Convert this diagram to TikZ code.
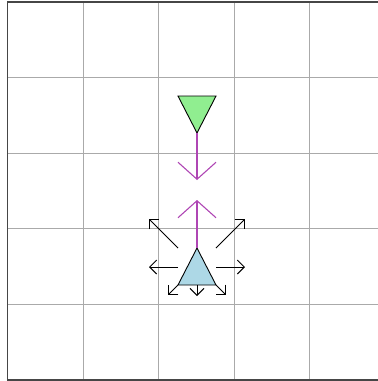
\documentclass[tikz,border=0pt]{standalone}
\usetikzlibrary{arrows.meta}
\definecolor{gridgray}{RGB}{170,170,170}
\definecolor{framegray}{RGB}{70,70,70}
\definecolor{fieldpurple}{RGB}{175,70,180}
\definecolor{srcgreen}{RGB}{144,238,144}
\definecolor{srcblue}{RGB}{173,216,230}
\tikzset{
  gridline/.style={draw=gridgray, line width=1pt},
  frameline/.style={draw=framegray, line width=1.5pt},
  fieldarrow/.style={draw=fieldpurple, line width=1.1pt, -{Straight Barb[length=17pt,width=38pt]}},
  spreadarrow/.style={draw=black, line width=0.9pt, -{Straight Barb[length=7pt,width=14pt]}},
  srcshape/.style={draw=black, line width=0.9pt, line join=miter}
}
\begin{document}
\begin{tikzpicture}[x=1pt,y=-1pt]
\useasboundingbox (0,0) rectangle (378,381);
% grid
\foreach \i in {1,2,3,4} {
  \draw[gridline] ({7.5+75.6*\i},2) -- ({7.5+75.6*\i},380);
  \draw[gridline] (7.5,{380-75.6*\i}) -- (378,{380-75.6*\i});
}
% frame
\draw[frameline] (378,2) -- (7.5,2) -- (7.5,380) -- (378,380);
% green source (downward triangle)
\coordinate (gtl) at (178,96);
\coordinate (gtr) at (216,96);
\coordinate (gtip) at (197,133);
\fill[srcgreen] (gtl) -- (gtr) -- (gtip) -- cycle;
\draw[srcshape] (gtl) -- (gtr) -- (gtip) -- cycle;
% blue source (upward triangle)
\coordinate (btop) at (197,248);
\coordinate (bbl) at (178,285);
\coordinate (bbr) at (216,285);
\fill[srcblue] (btop) -- (bbr) -- (bbl) -- cycle;
\draw[srcshape] (btop) -- (bbr) -- (bbl) -- cycle;
% purple field arrows
\coordinate (pdown) at (197,180);
\coordinate (pup) at (197,200);
\draw[fieldarrow] (gtip) -- (pdown);
\draw[fieldarrow] (btop) -- (pup);
% black spreading arrows from the blue source box
\coordinate (bnw) at (178,248);
\coordinate (bne) at (216,248);
\coordinate (bw) at (178,267);
\coordinate (be) at (216,267);
\coordinate (bs) at (197,285);
\coordinate (enw) at (149,219);
\coordinate (ene) at (245,219);
\coordinate (ew) at (149,267);
\coordinate (ee) at (245,267);
\coordinate (esw) at (168,295);
\coordinate (es) at (197,296);
\coordinate (ese) at (226,295);
\draw[spreadarrow] (bnw) -- (enw);
\draw[spreadarrow] (bne) -- (ene);
\draw[spreadarrow] (bw) -- (ew);
\draw[spreadarrow] (be) -- (ee);
\draw[spreadarrow] (bbl) -- (esw);
\draw[spreadarrow] (bs) -- (es);
\draw[spreadarrow] (bbr) -- (ese);
\end{tikzpicture}
\end{document}
